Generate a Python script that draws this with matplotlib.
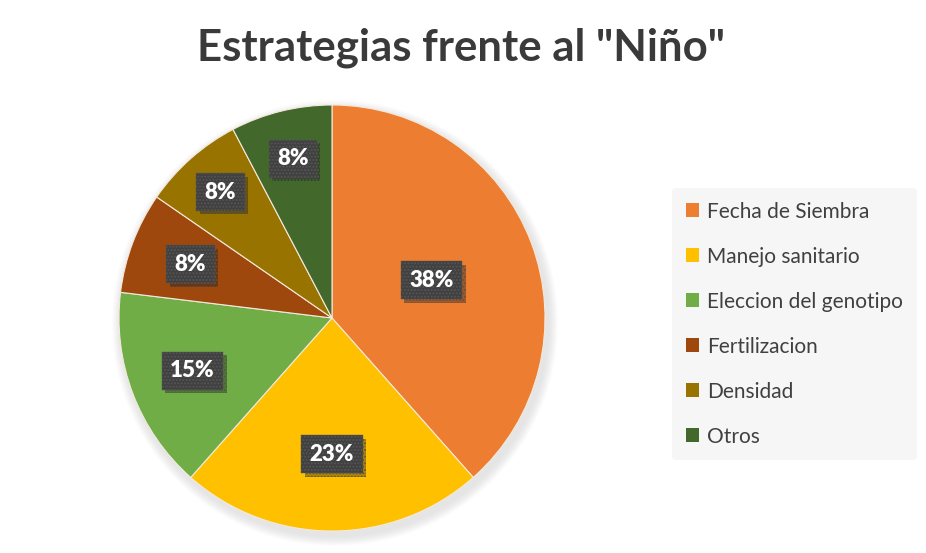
import numpy as np
import matplotlib
matplotlib.use("Agg")
import matplotlib.pyplot as plt
import matplotlib.patheffects as pe

categorias = ['Fecha de Siembra', 'Manejo sanitario', 'Eleccion del genotipo',
              'Fertilizacion', 'Densidad', 'Otros']
valores = [5, 3, 2, 1, 1, 1]
colores = ['#ED7D31', '#FFC000', '#70AD47', '#9E480E', '#997300', '#43682B']
# distancia radial de cada etiqueta (fraccion del radio)
dist_etiquetas = [0.50, 0.64, 0.70, 0.71, 0.79, 0.77]

plt.rcParams['font.family'] = ['Lato', 'DejaVu Sans']

W, H = 926, 553
fig = plt.figure(figsize=(W / 100, H / 100), dpi=100)
ax = fig.add_axes([0, 0, 1, 1])

cx, cy, r = 332, H - 318, 213

# sombra suave
for k in range(10):
    sh = plt.Circle((cx + 3, cy - 5), r + 10 - k, color='#9a9a9a', alpha=0.025, lw=0, zorder=0)
    ax.add_patch(sh)

wedges, _ = ax.pie(valores, colors=colores, startangle=90, counterclock=False,
                   center=(cx, cy), radius=r,
                   wedgeprops=dict(edgecolor='#f4e9dc', linewidth=0.8))

total = sum(valores)
for w, v, d in zip(wedges, valores, dist_etiquetas):
    ang = np.deg2rad((w.theta1 + w.theta2) / 2)
    x = cx + d * r * np.cos(ang)
    y = cy + d * r * np.sin(ang)
    t = ax.text(x, y, f'{v / total * 100:.0f}%', fontsize=16, fontweight='heavy',
                color='white', ha='center', va='center', zorder=5,
                bbox=dict(boxstyle='square,pad=0.38', fc='#404040', ec='#555555',
                          lw=0.3, hatch='.....'))
    t.get_bbox_patch().set_path_effects(
        [pe.SimplePatchShadow(offset=(2.5, -2.5), shadow_rgbFace='black', alpha=0.3),
         pe.Normal()])

ax.set_xlim(0, W)
ax.set_ylim(0, H)
ax.set_aspect('equal')
ax.axis('off')

fig.text(461 / W, 1 - 48 / H, 'Estrategias frente al "Niño"', fontsize=31.5,
         fontweight='bold', color='#3a3a3a', ha='center', va='center')

# leyenda
leg = ax.legend(wedges, categorias, loc='upper left', bbox_to_anchor=(672 / W, 1 - 188 / H),
                bbox_transform=fig.transFigure, frameon=True, fontsize=15,
                handlelength=0.65, handleheight=0.65, handletextpad=0.4,
                labelspacing=1.2, borderpad=0.65, borderaxespad=0,
                labelcolor='#404040')
leg.get_frame().set_facecolor('#f6f6f6')
leg.get_frame().set_edgecolor('none')
leg.get_frame().set_alpha(1)
for h in leg.legend_handles:
    h.set_edgecolor('none')

fig.savefig('out.png', dpi=100, facecolor='white')
